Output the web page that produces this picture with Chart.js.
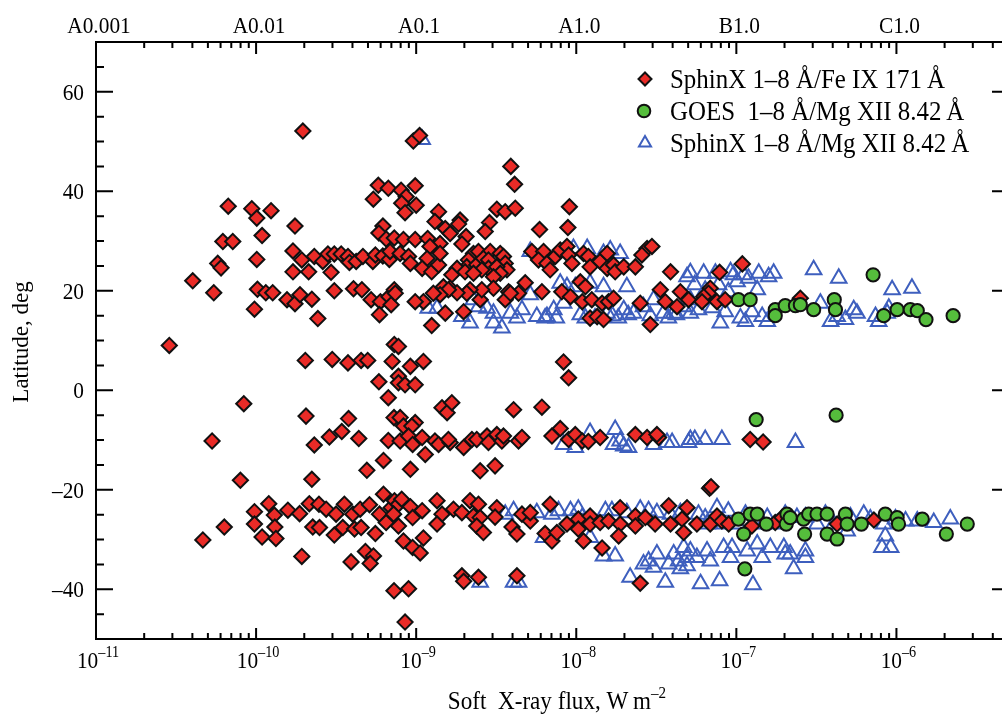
<!DOCTYPE html>
<html><head><meta charset="utf-8">
<script src="https://cdn.jsdelivr.net/npm/chart.js@4.4.1/dist/chart.umd.min.js"></script>
<style>html,body{margin:0;padding:0;background:#fff;}#wrap{width:1002px;height:714px;position:relative;}</style>
</head><body><div id="wrap"><canvas id="c" width="1002" height="714"></canvas></div>
<script>
// ---- data: [soft X-ray flux (W m^-2), latitude (deg)] ----
const fe171 = [
[1.96e-10,52.1],[5.8e-10,41.2],[6.7e-10,40.6],[5.4e-10,38.4],[6.7e-11,37.0],[9.4e-11,36.5],[1.24e-10,36.1],[1.01e-10,34.6],[1.75e-10,33.0],[6.2e-10,33.0],[5.85e-10,31.6],[6.5e-10,30.4],[7.3e-10,30.6],[1.09e-10,31.1],[6.2e-11,29.9],[7.15e-11,29.9],[1.7e-10,28.0],[1.93e-10,26.2],[2.31e-10,26.9],[2.61e-10,25.9],
[2.81e-10,27.4],[3.08e-10,27.4],[3.4e-10,27.4],[3.75e-10,26.9],[3.83e-10,25.7],[4.22e-10,25.9],[4.65e-10,26.9],[5.36e-10,25.9],[5.56e-10,27.2],[6.19e-10,27.0],[6.8e-10,26.3],
[1.01e-10,26.3],[5.76e-11,25.5],[6.04e-11,24.6],[4.02e-11,22.0],[5.44e-11,19.6],[1.7e-10,23.8],[2.13e-10,23.8],[2.94e-10,23.7],[1.02e-10,20.3],[1.15e-10,19.6],[1.27e-10,19.6],[1.56e-10,18.2],[1.75e-10,17.4],[1.88e-10,19.2],[2.23e-10,18.3],[3.08e-10,20.0],[4.06e-10,20.4],[4.58e-10,20.2],[5.23e-10,18.2],[5.98e-10,17.8],[5.9e-10,15.2],[6.76e-10,18.8],[6.98e-10,17.2],[7.3e-10,20.2],[9.77e-11,16.3],[2.43e-10,14.4],[2.87e-11,9.0],[7.3e-10,9.2],
[2.03e-10,6.0],[2.99e-10,6.2],[3.75e-10,5.5],[4.53e-10,6.0],[4.98e-10,6.0],[7.08e-10,5.8],[5.85e-10,1.7],[6.7e-10,-1.5],[8.38e-11,-2.7],[2.05e-10,-5.2],[3.78e-10,-5.7],[3.43e-10,-8.3],[2.87e-10,-9.4],[4.38e-10,-9.7],[5.31e-11,-10.2],[2.31e-10,-11.0],[6.7e-10,-10.1],[7.27e-10,-5.5],[6.25e-10,-14.1],[4.92e-10,-16.1],[2.23e-10,-17.9],[7.98e-11,-18.1],[6.25e-10,-20.9],[1.2e-10,-22.8],[9.77e-11,-24.4],[1.58e-10,-24.1],[1.87e-10,-24.8],[2.15e-10,-22.8],[2.47e-10,-22.9],[2.74e-10,-23.9],[3.16e-10,-24.9],[3.56e-10,-22.9],[4.02e-10,-24.9],[4.47e-10,-23.9],[5.11e-10,-23.0],[1.3e-10,-25.1],[9.77e-11,-26.9],[1.31e-10,-27.5],[2.26e-10,-27.5],[2.49e-10,-27.6],[3.48e-10,-27.6],[4.12e-10,-27.9],[4.53e-10,-27.6],[6.33e-11,-27.5],[4.65e-11,-30.1],[1.09e-10,-29.5],[1.33e-10,-29.8],[3.08e-10,-29.1],[5.56e-10,-28.8],[5.9e-10,-24.9],[6.49e-10,-26.6],[6.98e-10,-23.6],[7.32e-10,-22.2],[1.93e-10,-33.4],[4.82e-10,-32.4],[5.41e-10,-33.3],[3.92e-10,-34.5],[5.16e-10,-34.8],[7.27e-10,-40.3],
[9.6e-10,50.1],[1.05e-9,51.2],[3.9e-9,45.0],[4.12e-9,41.4],[9.86e-10,41.1],[8.05e-10,40.2],[8.66e-10,38.9],[8.12e-10,37.6],[8.52e-10,35.7],[1.0e-9,37.2],[9.06e-9,36.9],[3.19e-9,36.4],[3.6e-9,35.9],[4.16e-9,36.6],[1.38e-9,35.9],[1.31e-9,33.9],[1.88e-9,34.2],[1.84e-9,33.4],[2.87e-9,33.7],[2.7e-9,31.9],[1.52e-9,32.5],[1.63e-9,31.5],[5.9e-9,32.3],[8.87e-9,32.7],[8.33e-10,30.3],[9.86e-10,30.3],[1.18e-9,30.5],[2.05e-9,30.9],[1.93e-9,29.4],[1.41e-9,29.5],[1.22e-9,28.9],[6.87e-10,27.9],[7.94e-10,27.5],[8.96e-10,26.9],[9.2e-10,25.5],[1.17e-9,26.5],[1.09e-9,24.5],[1.25e-9,23.8],[1.38e-9,25.2],[1.41e-9,27.5],[2.28e-9,27.5],[2.45e-9,27.9],[2.9e-9,27.9],[3.35e-9,27.5],[3.51e-9,26.9],[3.6e-9,25.5],[3.69e-9,24.2],[2.12e-9,26.2],[2.07e-9,24.8],[2.39e-9,25.2],[2.63e-9,26.5],[2.83e-9,26.2],[2.83e-9,24.5],[2.57e-9,24.2],[1.8e-9,24.5],[1.67e-9,23.2],[1.48e-9,20.8],[1.63e-9,20.5],[2.02e-9,23.8],[2.28e-9,23.5],[3.19e-9,24.8],[3.35e-9,23.5],[3.04e-9,22.8],[5.28e-9,27.9],[6.25e-9,27.9],[5.81e-9,26.2],[6.56e-9,25.5],[6.87e-9,24.2],[7.4e-9,26.9],[7.94e-9,28.2],[8.75e-9,28.9],[8.96e-9,27.2],[9.4e-9,25.5],[1.11e-8,27.5],[1.19e-8,26.9],[1.22e-8,24.8],[1.41e-8,25.9],[1.56e-8,27.5],[1.56e-8,24.5],[1.71e-8,25.2],[1.75e-8,23.8],[1.98e-8,24.8],[2.34e-8,24.8],[2.77e-8,28.5],[2.97e-8,28.9],[2.57e-8,27.2],[6.1e-9,19.8],[4.8e-9,21.6],[4.36e-9,19.5],[3.78e-9,19.8],[2.51e-9,18.2],[3.04e-9,20.5],[2.57e-9,20.2],[2.17e-9,20.2],[2.07e-9,19.5],[1.8e-9,19.6],[1.59e-9,20.2],[1.41e-9,19.2],[1.28e-9,19.5],[1.11e-9,17.8],[9.86e-10,17.8],[7.4e-10,19.5],[1.98e-9,15.8],[1.52e-9,15.5],[1.25e-9,13.0],[3.6e-9,18.2],[3.88e-9,19.5],[1.06e-8,21.8],[1.14e-8,20.8],[8.12e-9,19.8],[9.2e-9,18.8],[1.09e-8,17.8],[1.25e-8,18.2],[1.45e-8,17.5],[1.59e-8,17.8],[1.71e-8,18.5],[1.22e-8,14.5],[1.35e-8,14.8],[1.48e-8,14.2],[2.51e-8,17.5],[2.9e-8,13.2],[3.6e-8,17.8],[4.26e-8,16.8],[4.47e-8,19.8],[3.35e-8,20.2],[3.88e-8,23.8],[5.03e-8,18.2],
[1.09e-7,25.4],[7.86e-8,23.7],[6.87e-8,20.5],[6.7e-8,19.5],[6.25e-8,18.8],[6.1e-8,17.8],[7.57e-8,17.8],[8.52e-8,18.2],[2.51e-7,18.5],
[7.75e-10,8.8],[9.2e-10,4.8],[1.11e-9,5.8],[7.75e-10,2.8],[7.75e-10,1.5],[8.52e-10,1.1],[9.86e-10,1.1],[8.33e-9,5.7],[8.96e-9,2.5],[1.45e-9,-3.5],[1.56e-9,-4.5],[1.67e-9,-2.5],[4.06e-9,-3.9],[6.1e-9,-3.4],[7.94e-10,-5.5],[8.33e-10,-7.2],[9.86e-10,-6.5],[9.4e-10,-7.2],[7.94e-10,-10.2],[8.96e-10,-9.2],[9.5e-10,-10.9],[1.09e-9,-9.5],[1.14e-9,-12.9],[9.2e-10,-15.9],[1.31e-9,-10.2],[1.38e-9,-10.9],[1.63e-9,-10.5],[1.59e-9,-9.9],[1.98e-9,-11.5],[2.23e-9,-9.9],[2.39e-9,-9.9],[2.77e-9,-9.2],[2.83e-9,-10.5],[3.19e-9,-8.9],[3.43e-9,-10.2],[3.51e-9,-9.2],[4.36e-9,-10.2],[4.58e-9,-9.5],[2.51e-9,-16.2],[3.11e-9,-15.2],[7.05e-9,-9.2],[7.94e-9,-7.7],[8.96e-9,-9.9],[9.86e-9,-8.9],[1.09e-8,-10.2],[1.19e-8,-10.3],[1.41e-8,-9.5],[2.34e-8,-8.9],[2.77e-8,-9.5],[3.27e-8,-9.5],[3.19e-8,-8.9],
[7.75e-10,-22.9],[7.23e-10,-24.9],[8.12e-10,-21.9],[9.2e-10,-23.4],[9.5e-10,-25.6],[1.09e-9,-24.2],[7.75e-10,-27.3],[8.33e-10,-30.3],[9.5e-10,-31.6],[1.06e-9,-32.7],[1.11e-9,-29.7],[1.35e-9,-22.2],[1.45e-9,-24.9],[1.35e-9,-26.9],[1.71e-9,-23.9],[1.93e-9,-24.6],[2.17e-9,-22.2],[2.28e-9,-25.3],[2.45e-9,-22.9],[2.51e-9,-25.6],[2.39e-9,-27.3],[2.63e-9,-28.6],[3.19e-9,-23.6],[3.11e-9,-25.5],[3.97e-9,-27.5],[4.26e-9,-28.9],[4.58e-9,-24.9],[5.16e-9,-26.3],[5.16e-9,-24.6],[6.39e-9,-28.8],[6.87e-9,-22.9],[7.05e-9,-30.3],[7.57e-9,-28.6],[8.75e-9,-26.9],[1.03e-8,-25.9],[1.03e-8,-27.9],[1.11e-8,-30.3],[1.22e-8,-25.3],[1.22e-8,-26.9],[1.41e-8,-26.6],[1.59e-8,-26.3],[1.88e-8,-23.6],[1.88e-8,-26.9],[1.84e-8,-29.3],[2.34e-8,-25.3],[2.34e-8,-27.3],[2.7e-8,-25.6],[3.11e-8,-26.9],[3.78e-8,-23.2],[3.88e-8,-26.9],[4.58e-8,-25.9],[4.69e-8,-28.6],[4.92e-8,-23.6],[1.45e-8,-31.7],[1.93e-9,-37.3],[1.98e-9,-38.4],[2.45e-9,-37.6],[4.26e-9,-37.3],[8.96e-10,-39.9],[8.52e-10,-46.6],[2.51e-8,-38.8],
[1.22e-7,-9.9],[1.47e-7,-10.4],[6.8e-8,-19.7],[6.95e-8,-19.4],[5.67e-8,-26.9],[6.87e-8,-26.9],[7.57e-8,-25.3],[8.12e-8,-26.3],[8.96e-8,-26.9],[1.25e-7,-27.3],[1.75e-7,-26.6],[1.93e-7,-25.6],[4.26e-7,-26.9],[7.23e-7,-26.1]
];
const goesMg = [
[1.03e-7,18.2],[1.22e-7,18.2],[1.75e-7,16.2],[1.75e-7,15.0],[2.02e-7,17.0],[2.34e-7,17.0],[2.51e-7,17.2],[3.04e-7,16.2],[4.09e-7,18.2],[4.16e-7,16.2],[7.15e-7,23.2],[8.33e-7,15.0],[1.01e-6,16.2],[1.22e-6,16.2],[1.35e-6,16.0],[1.53e-6,14.2],[2.26e-6,15.0],
[1.33e-7,-5.9],[4.2e-7,-5.0],[1.03e-7,-25.9],[1.22e-7,-24.9],[1.35e-7,-24.9],[1.11e-7,-28.9],[1.54e-7,-26.9],[2.07e-7,-24.9],[2.05e-7,-26.9],[2.17e-7,-25.6],[2.63e-7,-25.9],[2.67e-7,-28.9],[2.83e-7,-24.9],[3.19e-7,-24.9],[3.69e-7,-24.9],[3.69e-7,-28.9],[4.26e-7,-29.9],[4.8e-7,-24.9],[4.92e-7,-26.9],[6.04e-7,-26.9],[8.52e-7,-24.9],[1.01e-6,-25.6],[1.03e-6,-26.9],[1.45e-6,-25.9],[2.05e-6,-28.9],[2.77e-6,-26.9],[1.13e-7,-35.9]
];
const sphinxMg = [
[1.09e-9,50.4],
[5.16e-9,27.9],[9.6e-9,28.5],[1.17e-8,28.5],[1.63e-8,28.2],[1.88e-8,27.5],[1.48e-8,27.5],
[1.19e-9,16.5],[1.35e-9,16.5],[1.93e-9,14.8],[2.17e-9,13.5],[2.28e-9,18.2],[2.45e-9,16.8],[2.77e-9,16.5],[3.04e-9,13.5],[3.43e-9,12.5],[3.04e-9,15.5],[3.88e-9,15.5],[4.26e-9,14.5],[4.58e-9,16.2],[5.16e-9,19.2],[5.67e-9,14.8],[6.56e-9,14.8],[7.23e-9,16.2],[7.94e-9,21.5],[8.75e-9,20.8],[9.86e-9,20.8],[8.33e-9,17.5],[1.22e-8,21.5],[1.48e-8,20.8],[2.07e-8,20.8],[1.56e-8,15.5],[1.98e-8,16.2],[2.28e-8,15.5],[2.63e-8,16.8],[3.04e-8,18.2],[3.51e-8,15.5],[4.06e-8,15.5],[4.69e-8,16.8],[4.92e-8,22.8],[5.16e-8,18.2],
[6.39e-9,14.5],[7.5e-9,14.5],[1.06e-8,15.2],[1.14e-8,14.5],[1.31e-8,14.5],[1.68e-8,15.0],[1.83e-8,14.5],[2.11e-8,15.2],[2.9e-8,15.0],[3.76e-8,14.5],[4.22e-8,15.2],[5.8e-8,16.2],[7.08e-8,16.6],[8.52e-8,15.8],[1.06e-7,14.5],[1.14e-7,13.8],
[5.16e-8,23.6],[6.25e-8,23.5],[7.4e-8,23.5],[9.2e-8,23.8],[9.6e-8,23.2],[1.01e-7,21.8],[1.11e-7,23.2],[1.19e-7,22.5],[1.38e-7,23.5],[1.59e-7,22.8],[1.71e-7,23.5],[3.04e-7,24.2],[4.36e-7,22.5],[9.4e-7,20.2],[1.25e-6,20.5],[1.35e-7,20.2],[1.25e-7,15.8],[1.45e-7,14.8],[1.56e-7,13.8],[7.94e-8,13.5],[5.16e-8,15.5],[3.35e-7,17.5],[3.88e-7,13.8],[4.26e-7,14.8],[4.8e-7,14.2],[5.41e-7,16.2],[5.67e-7,15.5],[7.4e-7,14.8],[7.75e-7,13.8],[8.75e-7,15.5],[8.96e-7,16.5],
[5.5e-8,21.2],[6.39e-8,20.1],[7.75e-8,21.2],[8.91e-8,19.8],
[8.33e-9,-10.9],[9.86e-9,-11.5],[1.22e-8,-8.5],[1.75e-8,-7.9],[1.71e-8,-10.9],[1.88e-8,-10.2],[1.98e-8,-11.2],[2.12e-8,-11.5],[3.04e-8,-10.9],[3.69e-8,-10.5],[3.97e-8,-10.5],[5.03e-8,-10.5],[5.16e-8,-9.9],[5.5e-8,-9.9],[6.39e-8,-9.9],[8.12e-8,-9.9],[2.34e-7,-10.5],
[3.6e-9,-24.9],[4.06e-9,-24.2],[5.67e-9,-24.6],[6.25e-9,-29.6],[7.05e-9,-24.9],[7.75e-9,-24.2],[9.2e-9,-24.2],[1.03e-8,-23.9],[1.09e-8,-25.6],[1.22e-8,-29.6],[1.52e-8,-24.2],[1.67e-8,-24.2],[2.07e-8,-24.6],[2.51e-8,-23.9],[2.83e-8,-24.2],[3.19e-8,-24.6],[3.88e-8,-24.9],[4.47e-8,-24.6],
[6.56e-8,-26.9],[7.57e-8,-23.6],[8.33e-8,-26.9],[1.01e-7,-26.9],[1.35e-7,-26.9],[1.56e-7,-25.6],[1.8e-7,-26.9],[2.39e-7,-25.6],[3.19e-7,-26.9],[4.06e-7,-26.9],[4.92e-7,-28.3],[6.25e-7,-24.9],[8.33e-7,-26.9],[8.52e-7,-29.3],[9.2e-7,-31.6],[8.12e-7,-31.6],[1.14e-6,-26.3],[1.35e-6,-26.3],[1.71e-6,-26.6],
[5.8e-8,-24.9],[6.39e-8,-25.7],[8.91e-8,-24.3],[1.14e-7,-24.9],[1.41e-7,-25.9],[2.02e-7,-24.9],[2.7e-7,-25.5],[3.6e-7,-24.9],[5.16e-7,-25.5],[6.87e-7,-25.9],[9.86e-7,-25.9],[2.17e-6,-25.9],
[1.48e-8,-33.3],[1.75e-8,-33.3],[2.17e-8,-37.6],[2.63e-8,-34.9],[2.83e-8,-34.3],[3.04e-8,-35.6],[3.19e-8,-32.9],[3.6e-8,-38.6],[3.78e-8,-34.9],[4.06e-8,-32.9],[4.36e-8,-34.3],[4.69e-8,-31.6],[4.47e-8,-35.9],[4.92e-8,-33.6],[4.92e-8,-35.3],
[5.16e-8,-32.3],[5.67e-8,-33.6],[6.56e-8,-32.3],[6.87e-8,-34.3],[8.33e-8,-31.6],[9.4e-8,-31.6],[9.2e-8,-33.6],[1.17e-7,-32.3],[1.35e-7,-30.9],[1.45e-7,-33.6],[1.63e-7,-31.6],[1.98e-7,-31.6],[2.02e-7,-32.9],[2.17e-7,-32.9],[2.7e-7,-32.3],[2.7e-7,-33.6],[2.28e-7,-35.9],[5.98e-8,-38.9],[7.86e-8,-38.3],[1.27e-7,-39.1],
[2.51e-9,-38.6],[4.06e-9,-38.6],[4.36e-9,-38.6]
];

// ---- axes / labels ----
const xMin = 1e-11, xMax = 4.5e-6;
const yMin = -50, yMax = 70;
const xMajorTicks = [1e-11, 1e-10, 1e-9, 1e-8, 1e-7, 1e-6];
const xTickExponents = ['\u201311', '\u201310', '\u20139', '\u20138', '\u20137', '\u20136'];
const topTickLabels = ['A0.001', 'A0.01', 'A0.1', 'A1.0', 'B1.0', 'C1.0'];
const yMajorTicks = [-40, -20, 0, 20, 40, 60];
const yTickLabels = ['\u201340', '\u201320', '0', '20', '40', '60'];
const seriesLabels = ['SphinX 1\u20138 \u00C5/Fe IX 171\u2009\u00C5', 'GOES  1\u20138 \u00C5/Mg XII 8.42\u2009\u00C5', 'SphinX 1\u20138 \u00C5/Mg XII 8.42\u2009\u00C5'];
const xTitle = 'Soft  X-ray flux, W\u2009m';
const xTitleSup = '\u20132';
const yTitle = 'Latitude, deg';

const RED = '#ea2b27', GREEN = '#55bd3c', BLUE = '#3e5fbe', INK = '#111';
const FONT = '"Liberation Serif", "Times New Roman", Times, serif';
const SX = 0.89; // horizontal squeeze of the reference's lettering

function drawText(ctx, s, x, y, size, align, baseline, sx) {
  ctx.save();
  ctx.font = size + 'px ' + FONT;
  ctx.textBaseline = baseline;
  ctx.textAlign = 'left';
  ctx.fillStyle = '#000';
  const w = ctx.measureText(s).width * sx;
  const x0 = align === 'center' ? x - w / 2 : (align === 'right' ? x - w : x);
  ctx.translate(x0, y);
  ctx.scale(sx, 1);
  ctx.fillText(s, 0, 0);
  ctx.restore();
  return w;
}
function textWidth(ctx, s, size, sx) {
  ctx.save(); ctx.font = size + 'px ' + FONT;
  const w = ctx.measureText(s).width * sx; ctx.restore(); return w;
}

const framePlugin = {
  id: 'frame',
  afterDraw(chart) {
    const ctx = chart.ctx, a = chart.chartArea, xs = chart.scales.x, ys = chart.scales.y;
    const W = chart.width;
    ctx.save();
    ctx.strokeStyle = '#000';
    ctx.lineWidth = 2;
    ctx.lineCap = 'butt';
    // frame: left, bottom, top (right edge sits at the picture border)
    ctx.beginPath();
    ctx.moveTo(W, a.top); ctx.lineTo(a.left, a.top); ctx.lineTo(a.left, a.bottom); ctx.lineTo(W, a.bottom);
    ctx.stroke();
    // x ticks (bottom & top), majors and minors
    ctx.beginPath();
    for (const t of xMajorTicks) {
      for (let m = 1; m <= 9; m++) {
        const v = t * m;
        if (v < xMin || v > xMax) continue;
        const px = xs.getPixelForValue(v);
        const major = m === 1;
        ctx.moveTo(px, a.bottom); ctx.lineTo(px, a.bottom - (major ? 11 : 6));
        ctx.moveTo(px, a.top); ctx.lineTo(px, a.top + (major ? 12 : 6));
      }
    }
    // y ticks
    for (let v = yMin + 5; v < yMax; v += 5) {
      const py = ys.getPixelForValue(v);
      const major = yMajorTicks.includes(v);
      ctx.moveTo(a.left, py); ctx.lineTo(a.left + (major ? 17 : 8), py);
      if (major) { ctx.moveTo(W, py); ctx.lineTo(W - 10, py); }
    }
    ctx.stroke();
    ctx.restore();

    // bottom tick labels 10^n and top class labels
    xMajorTicks.forEach((t, i) => {
      const px = xs.getPixelForValue(t) + 2;
      const w1 = textWidth(ctx, '10', 24, SX), w2 = textWidth(ctx, xTickExponents[i], 16, SX);
      const x0 = px - (w1 + w2) / 2;
      drawText(ctx, '10', x0, 668, 24, 'left', 'alphabetic', SX);
      drawText(ctx, xTickExponents[i], x0 + w1, 657, 16, 'left', 'alphabetic', SX);
      drawText(ctx, topTickLabels[i], px + 1, 33, 24, 'center', 'alphabetic', SX);
    });
    // left tick labels
    yMajorTicks.forEach((v, i) => {
      drawText(ctx, yTickLabels[i], 84, ys.getPixelForValue(v) + 8, 24, 'right', 'alphabetic', SX);
    });
    // axis titles
    const wt = textWidth(ctx, xTitle, 26, SX), ws = textWidth(ctx, xTitleSup, 17, SX);
    const tx0 = 557 - (wt + ws) / 2;
    drawText(ctx, xTitle, tx0, 709, 26, 'left', 'alphabetic', SX);
    drawText(ctx, xTitleSup, tx0 + wt, 698, 17, 'left', 'alphabetic', SX);
    ctx.save();
    ctx.translate(28, 342);
    ctx.rotate(-Math.PI / 2);
    ctx.font = '23px ' + FONT; ctx.fillStyle = '#000';
    ctx.textAlign = 'center'; ctx.textBaseline = 'alphabetic';
    ctx.fillText(yTitle, 0, 0);
    ctx.restore();

    // legend
    const rows = [79, 111, 143];
    const mx = 645, tx = 670;
    ctx.save();
    ctx.lineWidth = 2;
    let y0 = rows[0];
    ctx.beginPath(); ctx.moveTo(mx, y0 - 6.5); ctx.lineTo(mx + 6.5, y0); ctx.lineTo(mx, y0 + 6.5); ctx.lineTo(mx - 6.5, y0); ctx.closePath();
    ctx.fillStyle = RED; ctx.fill(); ctx.strokeStyle = INK; ctx.stroke();
    y0 = rows[1];
    ctx.beginPath(); ctx.arc(mx - 1, y0, 6.3, 0, Math.PI * 2);
    ctx.fillStyle = GREEN; ctx.fill(); ctx.strokeStyle = INK; ctx.stroke();
    y0 = rows[2];
    const r = 7;
    ctx.beginPath();
    ctx.moveTo(mx, y0 - r); ctx.lineTo(mx + r * 0.866, y0 + r / 2); ctx.lineTo(mx - r * 0.866, y0 + r / 2); ctx.closePath();
    ctx.strokeStyle = BLUE; ctx.stroke();
    ctx.restore();
    seriesLabels.forEach((s, i) => drawText(ctx, s, tx, rows[i] + 9, 28, 'left', 'alphabetic', SX));
  }
};

const toPts = arr => arr.map(p => ({ x: p[0], y: p[1] }));

new Chart(document.getElementById('c').getContext('2d'), {
  type: 'scatter',
  data: {
    datasets: [
      { label: seriesLabels[0], data: toPts(fe171), pointStyle: 'rectRot', pointRadius: 7.6,
        pointBackgroundColor: RED, pointBorderColor: INK, pointBorderWidth: 2, order: 1, clip: false },
      { label: seriesLabels[1], data: toPts(goesMg), pointStyle: 'circle', pointRadius: 6.6,
        pointBackgroundColor: GREEN, pointBorderColor: INK, pointBorderWidth: 2, order: 0, clip: false },
      { label: seriesLabels[2], data: toPts(sphinxMg), pointStyle: 'triangle', pointRadius: 9,
        pointBackgroundColor: 'rgba(0,0,0,0)', pointBorderColor: BLUE, pointBorderWidth: 2, order: 2, clip: false }
    ]
  },
  options: {
    responsive: false,
    animation: false,
    events: [],
    layout: { autoPadding: false, padding: { left: 96, top: 42, right: 1, bottom: 75 } },
    scales: {
      x: { type: 'logarithmic', min: xMin, max: xMax, display: false },
      y: { type: 'linear', min: yMin, max: yMax, display: false }
    },
    plugins: { legend: { display: false }, tooltip: { enabled: false } }
  },
  plugins: [framePlugin]
});
</script>
</body></html>
